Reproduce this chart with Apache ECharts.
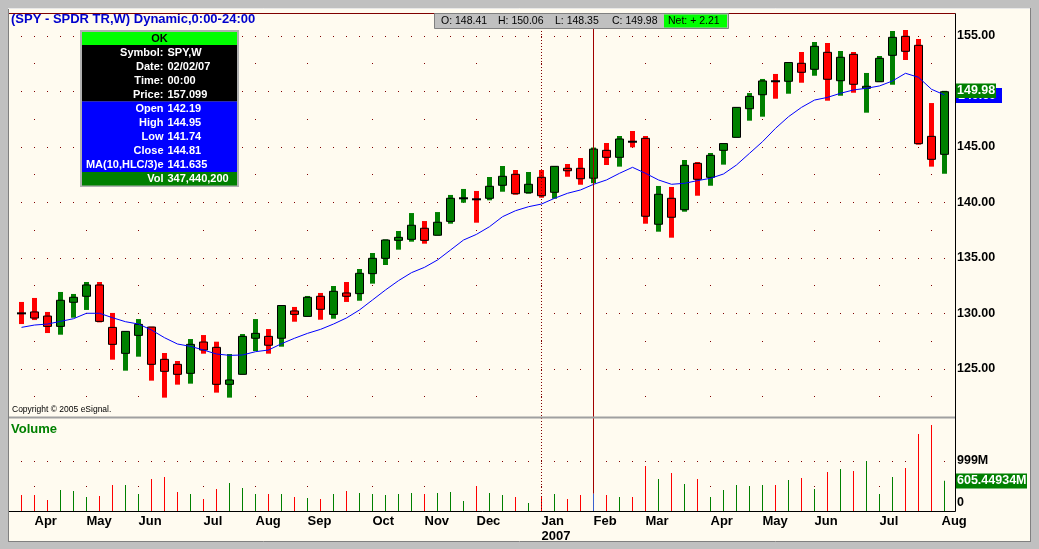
<!DOCTYPE html>
<html><head><meta charset="utf-8">
<script src="https://cdn.jsdelivr.net/npm/echarts@6/dist/echarts.min.js"></script>
<style>html,body{margin:0;padding:0;background:#C0C0C0;}#c{width:1039px;height:549px;}</style>
</head><body><div id="c"></div>
<script>
// ---------- DATA (weekly SPY bars) ----------
const dates = [
 '2006-03-31','2006-04-07','2006-04-14','2006-04-21','2006-04-28','2006-05-05','2006-05-12','2006-05-19','2006-05-26',
 '2006-06-02','2006-06-09','2006-06-16','2006-06-23','2006-06-30','2006-07-07','2006-07-14','2006-07-21','2006-07-28',
 '2006-08-04','2006-08-11','2006-08-18','2006-08-25','2006-09-01','2006-09-08','2006-09-15','2006-09-22','2006-09-29',
 '2006-10-06','2006-10-13','2006-10-20','2006-10-27','2006-11-03','2006-11-10','2006-11-17','2006-11-24',
 '2006-12-01','2006-12-08','2006-12-15','2006-12-22','2006-12-29',
 '2007-01-05','2007-01-12','2007-01-19','2007-01-26','2007-02-02','2007-02-09','2007-02-16','2007-02-23',
 '2007-03-02','2007-03-09','2007-03-16','2007-03-23','2007-03-30','2007-04-06','2007-04-13','2007-04-20','2007-04-27',
 '2007-05-04','2007-05-11','2007-05-18','2007-05-25','2007-06-01','2007-06-08','2007-06-15','2007-06-22','2007-06-29',
 '2007-07-06','2007-07-13','2007-07-20','2007-07-27','2007-08-03','2007-08-10'
];
const opens = [130.05,130.14,129.77,128.84,131.01,131.55,132.57,128.75,126.41,128.03,
 128.78,125.87,125.42,124.61,127.43,126.95,123.62,124.52,127.77,127.94,
 127.77,130.23,129.74,131.55,129.92,131.85,131.79,133.59,134.97,136.59,
 136.68,137.68,137.05,138.30,140.36,140.32,140.38,141.55,142.54,140.88,
 142.27,140.92,143.08,143.08,142.19,144.70,144.07,145.50,145.78,138.04,
 140.38,139.35,143.53,142.27,144.70,145.87,148.45,149.71,150.95,150.92,
 152.54,152.00,153.53,150.97,153.35,150.29,150.88,153.26,154.97,154.16,
 145.96,144.34];
const highs = [131.04,131.40,130.14,131.94,131.76,132.84,132.84,130.05,128.42,129.50,
 128.81,126.44,125.72,127.70,128.06,127.46,126.35,128.15,129.50,128.60,
 130.74,130.59,131.58,131.85,132.48,132.84,134.01,135.45,136.68,137.43,
 139.05,138.33,139.14,140.68,141.22,141.04,142.30,143.29,142.93,142.75,
 142.93,143.29,143.47,144.01,144.95,145.36,145.99,146.44,145.99,141.49,
 141.40,143.83,143.65,144.46,145.33,148.60,149.86,151.13,151.58,152.63,
 153.56,154.46,154.37,153.65,153.56,151.67,153.20,155.45,155.54,154.73,
 148.96,150.06];
const lows = [129.05,129.41,128.24,128.09,129.62,130.32,129.20,125.84,124.85,126.11,
 123.95,122.42,123.59,123.68,126.38,122.87,122.42,124.50,126.62,126.38,
 127.01,129.26,129.70,129.44,129.53,131.04,131.15,132.69,134.37,135.75,
 136.47,136.29,137.02,138.09,139.98,138.18,140.20,140.97,140.70,140.79,
 140.43,140.34,142.32,141.60,141.74,143.38,143.23,144.97,138.09,137.37,
 136.83,139.17,140.61,141.51,143.41,145.85,147.37,147.73,149.35,149.80,
 150.79,151.42,149.17,149.62,149.89,148.09,150.85,150.61,152.84,145.21,
 143.23,142.59];
const closes = [129.98,129.59,128.84,131.19,131.46,132.57,129.29,127.22,128.39,129.02,
 125.42,124.79,124.52,127.22,126.71,123.62,124.01,127.94,128.21,127.14,
 130.72,129.92,131.46,130.38,132.00,131.55,133.62,134.97,136.62,136.86,
 137.95,136.59,138.22,140.38,140.40,140.26,141.46,142.36,140.79,141.64,
 140.61,143.26,142.86,142.14,144.81,144.07,145.72,145.45,138.76,140.74,
 138.67,143.35,142.09,144.25,145.31,148.57,149.56,150.95,150.90,152.61,
 151.73,154.07,151.10,153.08,150.65,150.47,152.99,154.88,153.62,145.30,
 143.89,149.98];
const maValues = [128.75,128.96,129.05,129.29,129.53,130.02,130.02,129.62,129.26,129.05,
 128.51,127.82,127.25,127.04,126.71,126.35,126.23,126.26,126.56,126.71,
 127.28,127.77,128.21,128.57,129.05,129.60,130.32,131.22,132.12,132.96,
 133.68,134.16,134.82,135.72,136.62,137.13,137.82,138.72,139.26,139.62,
 139.86,140.38,140.83,141.13,141.635,142.03,142.63,143.17,142.63,142.03,
 141.64,141.73,141.97,142.18,142.57,143.38,144.43,145.48,146.68,147.73,
 148.57,149.23,149.47,149.84,150.14,150.29,150.50,150.95,151.64,151.28,
 150.20,149.69];
// volume in millions of shares
const volumes = [320,320,220,420,400,280,300,520,520,340,
 640,680,380,340,240,440,560,460,340,340,
 340,280,260,240,340,400,360,340,320,340,
 360,340,360,380,200,500,360,320,280,160,
 280,340,240,320,347.4402,320,280,280,900,640,
 760,540,640,280,420,520,500,520,520,620,
 660,440,780,840,800,1000,340,680,860,1540,
 1720,605.44934];
const priceTicks = [125,130,135,140,145,150,155];
const priceMinorStep = 2.5;
const volumeTicks = [0,999];
const selectedIndex = 44;   // bar under the cursor (02/02/07)
const quoteLine = ['O: 148.41','H: 150.06','L: 148.35','C: 149.98'];
const netText = 'Net: + 2.21';

// ---------- helpers ----------
const FF = '"Liberation Sans", Arial, sans-serif';
const monthNames = ['Jan','Feb','Mar','Apr','May','Jun','Jul','Aug','Sep','Oct','Nov','Dec'];
function isMonthStart(i){ return i>0 && dates[i].slice(5,7)!==dates[i-1].slice(5,7); }
let lastMonthStart = 0;
for (let i=0;i<dates.length;i++) if (isMonthStart(i)) lastMonthStart = i;
const RED='#FF0000', GREEN='#008000', DKRED='#800000';

const candleData = dates.map((d,i)=>[i, opens[i], closes[i], lows[i], highs[i]]);
const volData = volumes.map((v,i)=>({value:v, itemStyle:{color: i===selectedIndex ? '#3A5FCD' : (closes[i]>=opens[i]?GREEN:RED)}}));

function renderCandle(params, api){
  const i=api.value(0), o=api.value(1), c=api.value(2), l=api.value(3), h=api.value(4);
  const pO=api.coord([i,o]), pC=api.coord([i,c]), pL=api.coord([i,l]), pH=api.coord([i,h]);
  const cx=pO[0];
  const col = c>=o ? GREEN : RED;
  const ch=[{type:'rect',shape:{x:cx-2.5,y:pH[1],width:5,height:Math.max(1,pL[1]-pH[1])},style:{fill:col}}];
  const top=Math.min(pO[1],pC[1]), bot=Math.max(pO[1],pC[1]);
  if (bot-top<1.5) ch.push({type:'rect',shape:{x:cx-4.5,y:(top+bot)/2-1,width:9,height:2},style:{fill:'#000'}});
  else ch.push({type:'rect',shape:{x:cx-4,y:top,width:8,height:bot-top},style:{fill:col,stroke:'#000',lineWidth:1}});
  return {type:'group',children:ch};
}

const chart = echarts.init(document.getElementById('c'), null, {renderer:'canvas'});
const option = {
  animation:false,
  backgroundColor:'#FFFBF0',
  grid:[
    {left:21.5, right:94.5, top:36, height:360.75},
    {left:21.5, right:94.5, top:461, height:50}
  ],
  xAxis:[
    {type:'category', gridIndex:0, data:dates, boundaryGap:false,
     axisLine:{show:false}, axisTick:{show:false}, axisLabel:{show:false}, splitLine:{show:false}},
    {type:'category', gridIndex:1, data:dates, boundaryGap:false,
     axisLine:{show:false}, axisTick:{show:false}, splitLine:{show:false},
     axisLabel:{show:true, interval:(idx)=>isMonthStart(idx), align:'left', margin:3,
       color:'#000', fontWeight:'bold', fontSize:13, fontFamily:FF, lineHeight:15,
       formatter:(v,idx)=>{ const m=monthNames[+v.slice(5,7)-1];
         if (v.slice(5,7)==='01') return m+'\n'+v.slice(0,4);
         if (idx===lastMonthStart) return '{sh|'+m+'}';
         return m; },
       rich:{sh:{padding:[0,0,0,10], color:'#000', fontWeight:'bold', fontSize:13, fontFamily:FF}}}}
  ],
  yAxis:[
    {type:'value', gridIndex:0, position:'right', offset:10.5, min:122.5, max:155, interval:priceMinorStep,
     axisLine:{show:false}, axisTick:{show:false}, splitLine:{show:false},
     axisLabel:{margin:2, color:'#000', fontWeight:'bold', fontSize:12.5, fontFamily:FF,
       formatter:(v)=>{ const r=Math.round(v*100)/100; return priceTicks.includes(r)? r.toFixed(2):''; }}},
    {type:'value', gridIndex:1, position:'right', offset:10.5, min:volumeTicks[0], max:volumeTicks[1], interval:volumeTicks[1],
     axisLine:{show:false}, axisTick:{show:false}, splitLine:{show:false},
     axisLabel:{margin:2, color:'#000', fontWeight:'bold', fontSize:12.5, fontFamily:FF,
       formatter:(v)=> v===volumeTicks[1] ? v+'M' : '{z|'+v+'}',
       rich:{z:{padding:[0,0,16,0], color:'#000', fontWeight:'bold', fontSize:12.5, fontFamily:FF}}}}
  ],
  series:[
    {type:'custom', name:'SPY', xAxisIndex:0, yAxisIndex:0, data:candleData, renderItem:renderCandle,
     encode:{x:0, y:[1,2,3,4]}, clip:false, z:3},
    {type:'line', name:'MA', xAxisIndex:0, yAxisIndex:0, data:maValues, symbol:'none', clip:false, z:4,
     lineStyle:{color:'#0000FF', width:1}},
    {type:'bar', name:'Volume', xAxisIndex:1, yAxisIndex:1, data:volData, barWidth:1, clip:false, z:3}
  ]
};
chart.setOption(option);

// ---------- overlays positioned through the chart's own scales ----------
const px = (i)=>chart.convertToPixel({xAxisIndex:0}, dates[i]);
const py = (v)=>chart.convertToPixel({yAxisIndex:0}, v);
const pv = (v)=>chart.convertToPixel({yAxisIndex:1}, v);
const last = dates.length-1;
const xSel = px(selectedIndex);
const janIdx = dates.findIndex(d=>d.slice(5,7)==='01');
const xJan = px(janIdx);
const yClose = py(closes[last]);
const yMA = py(maValues[last]);
const yVol = pv(volumes[last]);
const ySelVol = pv(volumes[selectedIndex]);
const yBase = pv(0);
const xAx = 955.5, yTopLine = 13.5;

function txt(x,y,t,o){ return {type:'text', z:60, x:x, y:y, style:Object.assign({text:t, fill:'#000', font:'bold 11px '+FF, textVerticalAlign:'middle', verticalAlign:'middle'}, o||{})}; }

const g = [];
// dotted grid: 1px dots at every bar on the labelled price rows and the 999M row,
// and at every 2.5 points (half volume step) down each month column
function dot(x,y){ g.push({type:'rect', z:2, silent:true, shape:{x:Math.floor(x),y:Math.floor(y),width:1,height:1}, style:{fill:DKRED}}); }
priceTicks.forEach(v=>{ for (let i=0;i<dates.length;i++) dot(px(i), py(v)); });
for (let i=0;i<dates.length;i++) dot(px(i), pv(volumeTicks[1]));
const colLevels = [];
for (let v=priceTicks[priceTicks.length-1]; v>=priceTicks[0]-priceMinorStep-1e-9; v-=priceMinorStep) colLevels.push(v);
for (let i=0;i<dates.length;i++){
  if (!isMonthStart(i)) continue;
  colLevels.forEach(v=>dot(px(i), py(v)));
  dot(px(i), pv(volumeTicks[1]/2));
}
// window frame
g.push({type:'rect', z:90, shape:{x:0,y:0,width:1039,height:8}, style:{fill:'#C0C0C0'}});
g.push({type:'rect', z:90, shape:{x:0,y:0,width:8,height:549}, style:{fill:'#C0C0C0'}});
g.push({type:'rect', z:90, shape:{x:1031,y:0,width:8,height:549}, style:{fill:'#C0C0C0'}});
g.push({type:'rect', z:90, shape:{x:0,y:542,width:1039,height:7}, style:{fill:'#C0C0C0'}});
g.push({type:'line', z:91, shape:{x1:8.5,y1:8,x2:8.5,y2:542}, style:{stroke:'#808080', lineWidth:1}});
g.push({type:'line', z:91, shape:{x1:8,y1:8.5,x2:1031,y2:8.5}, style:{stroke:'#E8E8E8', lineWidth:1}});
g.push({type:'line', z:91, shape:{x1:1030.5,y1:8,x2:1030.5,y2:542}, style:{stroke:'#808080', lineWidth:1}});
g.push({type:'line', z:91, shape:{x1:8,y1:541.5,x2:1031,y2:541.5}, style:{stroke:'#808080', lineWidth:1}});
// pane lines
g.push({type:'line', z:20, shape:{x1:9,y1:yTopLine,x2:xAx,y2:yTopLine}, style:{stroke:DKRED, lineWidth:1}});
g.push({type:'rect', z:20, shape:{x:9,y:416.5,width:xAx-9,height:2}, style:{fill:'#A0A0A0'}});
g.push({type:'line', z:20, shape:{x1:xAx,y1:yTopLine,x2:xAx,y2:yBase+0.5}, style:{stroke:'#000', lineWidth:1}});
g.push({type:'line', z:20, shape:{x1:9,y1:Math.round(yBase)+0.5,x2:xAx,y2:Math.round(yBase)+0.5}, style:{stroke:'#000', lineWidth:1}});
// year separator and cursor line
g.push({type:'line', z:15, shape:{x1:xJan,y1:13,x2:xJan,y2:yBase}, style:{stroke:DKRED, lineWidth:1, lineDash:[1,2]}});
g.push({type:'line', z:15, shape:{x1:xSel,y1:yTopLine,x2:xSel,y2:ySelVol}, style:{stroke:'#A00000', lineWidth:1}});
// title
g.push(txt(11,19,'(SPY - SPDR TR,W) Dynamic,0:00-24:00',{fill:'#0000CC', font:'bold 13px '+FF, textAlign:'left', align:'left'}));
// quote box
g.push({type:'rect', z:55, shape:{x:434.5,y:13.5,width:294,height:15}, style:{fill:'#C0C0C0', stroke:'#808080', lineWidth:1}});
g.push({type:'rect', z:56, shape:{x:664,y:14.5,width:63,height:13}, style:{fill:'#00FF00'}});
const qx=[441,498,555,612];
quoteLine.forEach((t,k)=>g.push(txt(qx[k],21.5,t,{font:'10.5px '+FF, textAlign:'left', align:'left'})));
g.push(txt(668,21.5,netText,{font:'10.5px '+FF, textAlign:'left', align:'left'}));
// info box
g.push({type:'rect', z:55, shape:{x:80,y:30,width:159,height:157}, style:{fill:'#B0B0B0'}});
g.push({type:'rect', z:56, shape:{x:82,y:32,width:155,height:13}, style:{fill:'#00FF00'}});
g.push({type:'rect', z:56, shape:{x:82,y:45,width:155,height:56.5}, style:{fill:'#000000'}});
g.push({type:'rect', z:56, shape:{x:82,y:101.5,width:155,height:70.5}, style:{fill:'#0000FF'}});
g.push({type:'rect', z:56, shape:{x:82,y:172,width:155,height:13.5}, style:{fill:'#008000'}});
g.push(txt(159.5,39,'OK',{textAlign:'center', align:'center'}));
const d = dates[selectedIndex];
const infoRows = [
  ['Symbol:','SPY,W'],
  ['Date:', d.slice(5,7)+'/'+d.slice(8,10)+'/'+d.slice(2,4)],
  ['Time:','00:00'],
  ['Price:','157.099'],
  ['Open', opens[selectedIndex].toFixed(2)],
  ['High', highs[selectedIndex].toFixed(2)],
  ['Low', lows[selectedIndex].toFixed(2)],
  ['Close', closes[selectedIndex].toFixed(2)],
  ['MA(10,HLC/3)e', maValues[selectedIndex].toFixed(3)],
  ['Vol', Math.round(volumes[selectedIndex]*1e6).toLocaleString('en-US')]
];
infoRows.forEach((r,k)=>{
  const y = 53 + 14*k;
  g.push(txt(163.5,y,r[0],{fill:'#FFFFFF', textAlign:'right', align:'right'}));
  g.push(txt(167.5,y,r[1],{fill:'#FFFFFF', textAlign:'left', align:'left'}));
});
// pane captions
g.push(txt(11,429,'Volume',{fill:'#008000', font:'bold 13px '+FF, textAlign:'left', align:'left'}));
g.push(txt(12,410,'Copyright \u00A9 2005 eSignal.',{font:'8.5px '+FF, textAlign:'left', align:'left'}));
// right-hand value markers
g.push({type:'rect', z:57, shape:{x:956,y:Math.round(yMA)-7,width:46,height:15}, style:{fill:'#0000FF'}});
g.push(txt(958,Math.round(yMA)+0.5,maValues[last].toFixed(2),{fill:'#FFFFFF', font:'bold 12.5px '+FF, textAlign:'left', align:'left'}));
g.push({type:'rect', z:62, shape:{x:956,y:Math.round(yClose)-8.5,width:40,height:14.5}, style:{fill:'#008000'}});
const tc = txt(957,Math.round(yClose)-1,closes[last].toFixed(2),{fill:'#FFFFFF', font:'bold 12.5px '+FF, textAlign:'left', align:'left'});
tc.z = 63; g.push(tc);
g.push({type:'rect', z:57, shape:{x:956,y:Math.round(yVol)-7.5,width:71,height:15}, style:{fill:'#008000'}});
g.push(txt(957,Math.round(yVol),volumes[last].toFixed(5)+'M',{fill:'#FFFFFF', font:'bold 12.5px '+FF, textAlign:'left', align:'left'}));

chart.setOption({graphic:{elements:g}});
</script>
</body></html>
